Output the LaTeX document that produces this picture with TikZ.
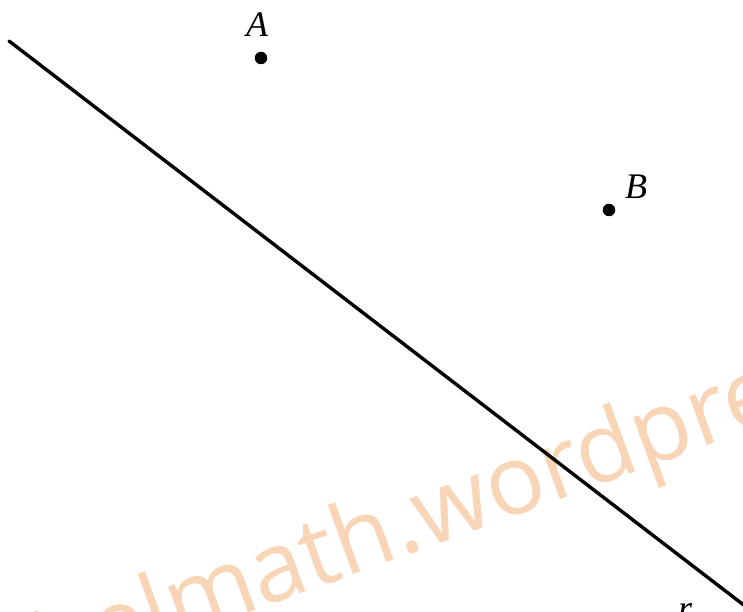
\documentclass[tikz,border=0pt]{standalone}
\usepackage{fontspec}
\setmainfont{Liberation Serif}
\newfontfamily\wmfont{Open Sans}
\definecolor{wmorange}{RGB}{248,213,182}
\begin{document}
\begin{tikzpicture}[x=1pt,y=-1pt,
  pt/.style={circle,fill=black,inner sep=0pt,minimum size=12.5pt},
  lab/.style={inner sep=0pt,font=\fontsize{36}{40}\selectfont\itshape},
  wm/.style={inner sep=0pt,rotate=20,text=wmorange,font=\wmfont\fontsize{97}{100}\selectfont},
  rline/.style={line width=3.4pt,line cap=round}]
\clip (0,0) rectangle (743,612);
% watermark
\coordinate (wmsplit) at (402,557);
\node[wm,anchor=base east] (wmleft) at (wmsplit) {michelmath};
\node[wm,anchor=base west] (wmright) at (wmsplit) {.wordpress.com};
% line r
\coordinate (r1) at (9,41);
\coordinate (r2) at (745,606);
\draw[rline] (r1) -- (r2);
% points
\node[pt] (A) at (261,58) {};
\node[pt] (B) at (609,210) {};
\node[lab] (Alab) at (257,25) {A};
\node[lab] (Blab) at (636,187) {B};
\node[lab,anchor=base] (rlab) at (685,620) {r};
\end{tikzpicture}
\end{document}
